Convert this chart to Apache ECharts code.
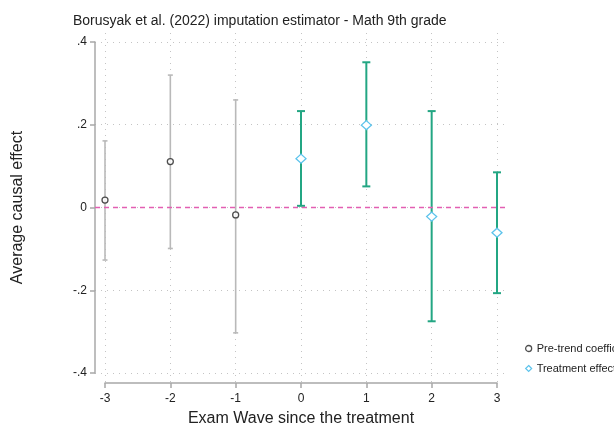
<!DOCTYPE html>
<html>
<head>
<meta charset="utf-8">
<script src="https://cdn.jsdelivr.net/npm/echarts@6/dist/echarts.min.js"></script>
<style>
  html, body { margin: 0; padding: 0; background: #fff; }
  #chart { width: 614px; height: 431px; }
</style>
</head>
<body>
<div id="chart"></div>
<script>
// Event-study estimates by exam wave relative to treatment
const preWave = [-3, -2, -1];
const preEst  = [0.018, 0.111, -0.018];
const preLo   = [-0.127, -0.099, -0.303];
const preHi   = [0.161, 0.320, 0.260];

const treatWave = [0, 1, 2, 3];
const treatEst  = [0.118, 0.199, -0.022, -0.061];
const treatLo   = [0.004, 0.051, -0.275, -0.207];
const treatHi   = [0.233, 0.351, 0.233, 0.085];

const FONT = 'Liberation Sans, Arial, sans-serif';
const GRID_COLOR = '#c4c4c4';
const AXIS_COLOR = '#a8a8a8';
const PRE_CI = '#b9b9b9';
const TREAT_CI = '#23a683';
const TREAT_MARK = '#5cc3ec';
const ZERO_COLOR = '#e25fb2';

function fmtY(v) {
  if (Math.abs(v) < 1e-9) return '0';
  const s = Math.abs(v).toFixed(1).replace(/^0/, '');
  return (v < 0 ? '-' : '') + s;
}

function ciSeries(name, waves, lo, hi, color, cap, width) {
  return {
    name: name,
    type: 'custom',
    xAxisIndex: 2, yAxisIndex: 2,
    silent: true,
    data: waves.map((w, i) => [w, lo[i], hi[i]]),
    renderItem: function (params, api) {
      const x = api.value(0);
      const p1 = api.coord([x, api.value(1)]);
      const p2 = api.coord([x, api.value(2)]);
      const st = { stroke: color, lineWidth: width };
      return {
        type: 'group',
        children: [
          { type: 'line', shape: { x1: p1[0], y1: p1[1], x2: p2[0], y2: p2[1] }, style: st },
          { type: 'line', shape: { x1: p1[0] - cap, y1: p1[1], x2: p1[0] + cap, y2: p1[1] }, style: st },
          { type: 'line', shape: { x1: p2[0] - cap, y1: p2[1], x2: p2[0] + cap, y2: p2[1] }, style: st }
        ]
      };
    },
    z: 3
  };
}

const chart = echarts.init(document.getElementById('chart'), null, { renderer: 'canvas' });

const gridBase = { containLabel: false, outerBoundsMode: 'none' };

chart.setOption({
  animation: false,
  backgroundColor: '#ffffff',
  title: {
    text: 'Borusyak et al. (2022) imputation estimator - Math 9th grade',
    left: 68, top: 9,
    textStyle: { fontFamily: FONT, fontSize: 14, fontWeight: 'normal', color: '#222' }
  },
  legend: {
    orient: 'vertical',
    left: 520, top: 338,
    itemWidth: 6, itemHeight: 6, itemGap: 9,
    textStyle: { fontFamily: FONT, fontSize: 11, color: '#222' },
    data: [
      { name: 'Pre-trend coefficients', icon: 'circle', itemStyle: { color: '#fff', borderColor: '#222', borderWidth: 1.3 } },
      { name: 'Treatment effects', icon: 'diamond', itemStyle: { color: '#fff', borderColor: TREAT_MARK, borderWidth: 1.2 } }
    ]
  },
  grid: [
    // horizontal axis with vertical gridlines
    Object.assign({ left: 105, right: 117, top: 33, bottom: 48 }, gridBase),
    // vertical axis with horizontal gridlines
    Object.assign({ left: 95, right: 108, top: 42, bottom: 58 }, gridBase),
    // estimates
    Object.assign({ left: 105, right: 117, top: 42, bottom: 58 }, gridBase)
  ],
  xAxis: [
    {
      gridIndex: 0, type: 'value', min: -3, max: 3, interval: 1,
      name: 'Exam Wave since the treatment',
      nameLocation: 'middle', nameGap: 28,
      nameTextStyle: { fontFamily: FONT, fontSize: 16, color: '#222' },
      axisLine: { show: true, lineStyle: { color: AXIS_COLOR, width: 1.5 } },
      axisTick: { show: true, length: 5, lineStyle: { color: AXIS_COLOR, width: 1.5 } },
      axisLabel: { fontFamily: FONT, fontSize: 12, color: '#222', margin: 10 },
      splitLine: { show: true, lineStyle: { color: GRID_COLOR, type: [1, 5], width: 1 } }
    },
    { gridIndex: 1, type: 'value', min: 0, max: 1, show: false },
    { gridIndex: 2, type: 'value', min: -3, max: 3, show: false }
  ],
  yAxis: [
    { gridIndex: 0, type: 'value', min: 0, max: 1, show: false },
    {
      gridIndex: 1, type: 'value', min: -0.4, max: 0.4, interval: 0.2,
      name: 'Average causal effect',
      nameLocation: 'middle', nameGap: 69,
      nameTextStyle: { fontFamily: FONT, fontSize: 16, color: '#222' },
      axisLine: { show: true, lineStyle: { color: AXIS_COLOR, width: 1.5 } },
      axisTick: { show: true, length: 5, lineStyle: { color: AXIS_COLOR, width: 1.5 } },
      axisLabel: { fontFamily: FONT, fontSize: 12, color: '#222', margin: 8, formatter: fmtY },
      splitLine: { show: true, lineStyle: { color: GRID_COLOR, type: [1, 5], width: 1 } }
    },
    { gridIndex: 2, type: 'value', min: -0.4, max: 0.4, show: false }
  ],
  series: [
    {
      name: 'zero',
      type: 'line',
      xAxisIndex: 1, yAxisIndex: 1,
      data: [[0, 0], [1, 0]],
      symbol: 'none', silent: true,
      color: ZERO_COLOR,
      itemStyle: { color: ZERO_COLOR },
      lineStyle: { color: ZERO_COLOR, width: 1.5, type: [5, 4], opacity: 1 },
      z: 4
    },
    ciSeries('preCI', preWave, preLo, preHi, PRE_CI, 2.5, 1.6),
    ciSeries('treatCI', treatWave, treatLo, treatHi, TREAT_CI, 4, 2),
    {
      name: 'Pre-trend coefficients',
      type: 'scatter',
      xAxisIndex: 2, yAxisIndex: 2,
      data: preWave.map((w, i) => [w, preEst[i]]),
      symbol: 'circle', symbolSize: 6,
      itemStyle: { color: '#fff', borderColor: '#222', borderWidth: 1.3 },
      z: 5
    },
    {
      name: 'Treatment effects',
      type: 'scatter',
      xAxisIndex: 2, yAxisIndex: 2,
      data: treatWave.map((w, i) => [w, treatEst[i]]),
      symbol: 'diamond', symbolSize: [10, 9],
      itemStyle: { color: '#fff', borderColor: TREAT_MARK, borderWidth: 1.3, opacity: 1 },
      z: 5
    }
  ]
});
</script>
</body>
</html>
